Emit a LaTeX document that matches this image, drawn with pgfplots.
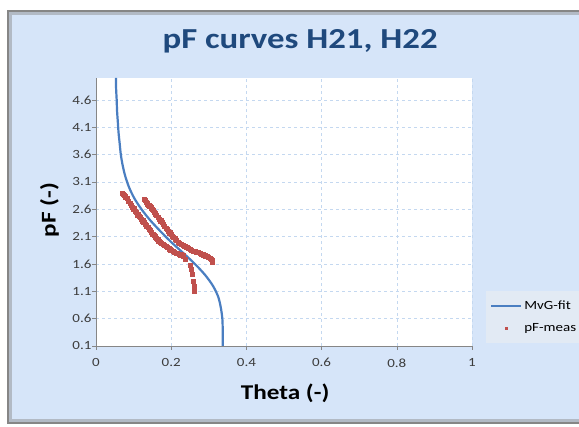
\documentclass[border=0pt]{standalone}
\usepackage{pgfplots}
\pgfplotsset{compat=1.18}
\usepackage{fontspec}
\setmainfont{Carlito}[FakeStretch=1.2]

\definecolor{chartbg}{RGB}{214,229,249}
\definecolor{legbg}{RGB}{226,234,244}
\definecolor{titleblue}{RGB}{31,73,125}
\definecolor{fitblue}{RGB}{74,126,193}
\definecolor{measred}{RGB}{192,80,77}
\definecolor{gridblue}{RGB}{196,216,240}
\definecolor{framegray}{RGB}{134,134,134}
\definecolor{ticktext}{RGB}{60,60,60}

\pgfplotsset{
  linelegend/.style={legend image code/.code={\draw[##1] (0pt,0pt) -- (30pt,0pt);}},
  marklegend/.style={legend image code/.code={\draw[mark repeat=2, mark phase=2, ##1, mark size=1.4pt]
    plot coordinates {(0pt,0pt) (15pt,0pt) (30pt,0pt)};}},
}

\begin{document}
\begin{tikzpicture}[x=1pt,y=1pt]
\useasboundingbox (0,0) rectangle (579,427);
\fill[white] (0,0) rectangle (579,427);
\fill[chartbg] (8,4) rectangle (600,416);
% soft inner edge of the chart frame
\draw[framegray!45!chartbg, line width=3] (600,413.5) -- (10.5,413.5) -- (10.5,6.5) -- (600,6.5);
\draw[framegray, line width=1.6] (600,416) -- (8,416) -- (8,4) -- (600,4);

\begin{axis}[
  at={(96pt,81pt)}, anchor=south west,
  width=376pt, height=268pt, scale only axis,
  xmin=0, xmax=1, ymin=0.1, ymax=5,
  axis background/.style={fill=white},
  axis lines*=left,
  axis line style={draw=framegray, line width=0.8pt},
  tick align=outside, major tick length=4pt,
  tick style={draw=framegray, line width=0.6pt},
  xtick={0,0.2,0.4,0.6,0.8,1},
  xticklabels={0,0.2,0.4,0.6,0.8,1},
  ytick={0.1,0.6,1.1,1.6,2.1,2.6,3.1,3.6,4.1,4.6},
  yticklabels={0.1,0.6,1.1,1.6,2.1,2.6,3.1,3.6,4.1,4.6},
  grid=major,
  major grid style={draw=gridblue, dashed, line width=0.6pt},
  tick label style={font=\fontsize{12.5}{15}\selectfont, text=ticktext},
  xticklabel style={yshift=-5pt},
  yticklabel style={xshift=3pt},
  title={pF curves H21, H22},
  title style={at={(0.543,1.116)}, anchor=center, font=\fontsize{29}{32}\selectfont\bfseries, text=titleblue},
  xlabel={Theta (-)},
  xlabel style={at={(0.503,-0.175)}, anchor=center, font=\fontsize{21}{24}\selectfont\bfseries},
  ylabel={pF (-)},
  ylabel style={at={(-0.124,0.507)}, anchor=center, font=\fontsize{21}{24}\selectfont\bfseries},
  legend style={at={(1.037,0.205)}, anchor=north west, fill=legbg, draw=none,
    font=\fontsize{12.5}{15}\selectfont, inner xsep=4pt, inner ysep=8pt, row sep=8pt},
  legend cell align=left,
  clip=false,
]
\addplot[no markers, color=fitblue, line width=2.2pt, smooth, linelegend]
  coordinates {
  (0.053,5.0) (0.0535,4.8) (0.055,4.6) (0.056,4.4) (0.058,4.2) (0.060,4.0)
  (0.063,3.8) (0.066,3.6) (0.071,3.4) (0.078,3.2) (0.088,3.0) (0.102,2.8)
  (0.121,2.6) (0.144,2.4) (0.171,2.2) (0.200,2.0) (0.232,1.8) (0.263,1.6)
  (0.290,1.4) (0.311,1.2) (0.325,1.0) (0.332,0.8) (0.336,0.6) (0.337,0.4)
  (0.337,0.2) (0.337,0.1)
  };
\addlegendentry{MvG-fit}
\addplot[only marks, mark=square*, mark size=2.1pt,
  mark options={draw=measred, fill=measred}, marklegend]
  coordinates {
  (0.069,2.89) (0.072,2.87) (0.075,2.85) (0.078,2.83) (0.082,2.80) (0.086,2.75)
  (0.090,2.71) (0.093,2.68) (0.097,2.64) (0.100,2.61) (0.104,2.57) (0.107,2.54)
  (0.111,2.50) (0.114,2.48) (0.117,2.45) (0.120,2.42) (0.124,2.39) (0.127,2.36)
  (0.131,2.33) (0.134,2.30) (0.138,2.27) (0.141,2.24) (0.144,2.21) (0.147,2.18)
  (0.151,2.15) (0.154,2.12) (0.157,2.10) (0.160,2.07) (0.164,2.05) (0.167,2.02)
  (0.170,2.00) (0.174,1.98) (0.178,1.96) (0.182,1.94) (0.186,1.92) (0.190,1.90)
  (0.194,1.88) (0.197,1.86) (0.201,1.85) (0.205,1.83) (0.209,1.82) (0.213,1.80)
  (0.217,1.79) (0.221,1.78) (0.225,1.77) (0.229,1.76) (0.232,1.75)
  (0.237,1.68) (0.250,1.58) (0.254,1.50) (0.256,1.41) (0.259,1.29) (0.261,1.20)
  (0.262,1.11)
  (0.128,2.79) (0.131,2.76) (0.134,2.73) (0.137,2.70) (0.140,2.68) (0.143,2.65)
  (0.146,2.63) (0.149,2.60) (0.152,2.58) (0.155,2.55) (0.158,2.52) (0.161,2.49)
  (0.165,2.45) (0.168,2.42) (0.172,2.39) (0.175,2.36) (0.179,2.33) (0.182,2.29)
  (0.186,2.26) (0.189,2.23) (0.193,2.20) (0.196,2.17) (0.200,2.14) (0.203,2.11)
  (0.206,2.09) (0.210,2.06) (0.214,2.03) (0.218,2.00) (0.222,1.98) (0.226,1.96)
  (0.231,1.94) (0.236,1.92) (0.241,1.91) (0.245,1.89) (0.250,1.87) (0.254,1.85)
  (0.259,1.84) (0.263,1.83) (0.268,1.82) (0.272,1.81) (0.277,1.80) (0.281,1.78)
  (0.286,1.77) (0.290,1.75) (0.295,1.74) (0.299,1.72) (0.303,1.70) (0.306,1.68)
  (0.308,1.66) (0.310,1.64)
  };
\addlegendentry{pF-meas}
\end{axis}
\end{tikzpicture}
\end{document}
